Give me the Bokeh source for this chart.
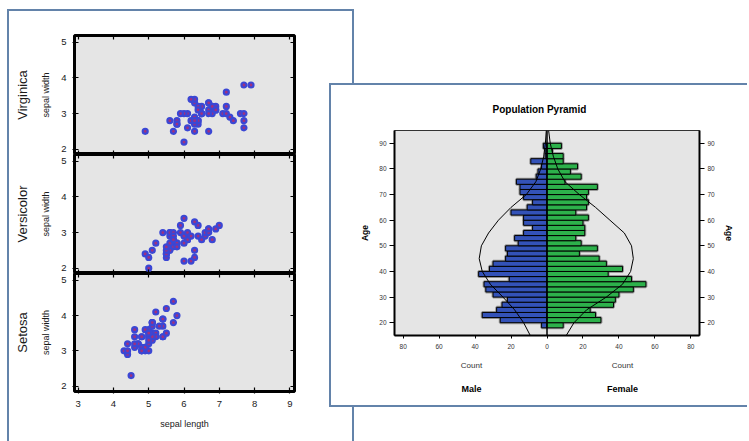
from bokeh.plotting import figure
from bokeh.models import (Range1d, LinearAxis, FixedTicker, GridBox, Column, Title,
                          CustomJSTickFormatter, Span)
from bokeh.embed import file_html
from bokeh.resources import INLINE

FONT = "Liberation Sans"
PANEL_BORDER = "2px solid #6383aa"

# ---------------- Iris data (sepal length, sepal width) ----------------
setosa_len = [5.1, 4.9, 4.7, 4.6, 5.0, 5.4, 4.6, 5.0, 4.4, 4.9, 5.4, 4.8, 4.8, 4.3, 5.8, 5.7, 5.4,
              5.1, 5.7, 5.1, 5.4, 5.1, 4.6, 5.1, 4.8, 5.0, 5.0, 5.2, 5.2, 4.7, 4.8, 5.4, 5.2, 5.5,
              4.9, 5.0, 5.5, 4.9, 4.4, 5.1, 5.0, 4.5, 4.4, 5.0, 5.1, 4.8, 5.1, 4.6, 5.3, 5.0]
setosa_wid = [3.5, 3.0, 3.2, 3.1, 3.6, 3.9, 3.4, 3.4, 2.9, 3.1, 3.7, 3.4, 3.0, 3.0, 4.0, 4.4, 3.9,
              3.5, 3.8, 3.8, 3.4, 3.7, 3.6, 3.3, 3.4, 3.0, 3.4, 3.5, 3.4, 3.2, 3.1, 3.4, 4.1, 4.2,
              3.1, 3.2, 3.5, 3.6, 3.0, 3.4, 3.5, 2.3, 3.2, 3.5, 3.8, 3.0, 3.8, 3.2, 3.7, 3.3]
versicolor_len = [7.0, 6.4, 6.9, 5.5, 6.5, 5.7, 6.3, 4.9, 6.6, 5.2, 5.0, 5.9, 6.0, 6.1, 5.6, 6.7, 5.6,
                  5.8, 6.2, 5.6, 5.9, 6.1, 6.3, 6.1, 6.4, 6.6, 6.8, 6.7, 6.0, 5.7, 5.5, 5.5, 5.8, 6.0,
                  5.4, 6.0, 6.7, 6.3, 5.6, 5.5, 5.5, 6.1, 5.8, 5.0, 5.6, 5.7, 5.7, 6.2, 5.1, 5.7]
versicolor_wid = [3.2, 3.2, 3.1, 2.3, 2.8, 2.8, 3.3, 2.4, 2.9, 2.7, 2.0, 3.0, 2.2, 2.9, 2.9, 3.1, 3.0,
                  2.7, 2.2, 2.5, 3.2, 2.8, 2.5, 2.8, 2.9, 3.0, 2.8, 3.0, 2.9, 2.6, 2.4, 2.4, 2.7, 2.7,
                  3.0, 3.4, 3.1, 2.3, 3.0, 2.5, 2.6, 3.0, 2.6, 2.3, 2.7, 3.0, 2.9, 2.9, 2.5, 2.8]
virginica_len = [6.3, 5.8, 7.1, 6.3, 6.5, 7.6, 4.9, 7.3, 6.7, 7.2, 6.5, 6.4, 6.8, 5.7, 5.8, 6.4, 6.5,
                 7.7, 7.7, 6.0, 6.9, 5.6, 7.7, 6.3, 6.7, 7.2, 6.2, 6.1, 6.4, 7.2, 7.4, 7.9, 6.4, 6.3,
                 6.1, 7.7, 6.3, 6.4, 6.0, 6.9, 6.7, 6.9, 5.8, 6.8, 6.7, 6.7, 6.3, 6.5, 6.2, 5.9]
virginica_wid = [3.3, 2.7, 3.0, 2.9, 3.0, 3.0, 2.5, 2.9, 2.5, 3.6, 3.2, 2.7, 3.0, 2.5, 2.8, 3.2, 3.0,
                 3.8, 2.6, 2.2, 3.2, 2.8, 2.8, 2.7, 3.3, 3.2, 2.8, 3.0, 2.8, 3.0, 2.8, 3.8, 2.8, 2.8,
                 2.6, 3.0, 3.4, 3.1, 3.0, 3.1, 3.1, 3.1, 2.7, 3.2, 3.3, 3.0, 2.5, 3.0, 3.4, 3.0]
iris_x_ticks = [3, 4, 5, 6, 7, 8, 9]
iris_y_ticks = [2, 3, 4, 5]

# ---------------- Population pyramid data ----------------
age_bins = [19, 21, 23, 25, 27, 29, 31, 33, 35, 37, 39, 41, 43, 45, 47, 49, 51, 53,
            55, 57, 59, 61, 63, 65, 67, 69, 71, 73, 75, 77, 79, 81, 83, 85, 87, 89]
male_counts = [3, 26, 36, 28, 25, 22, 30, 34, 35, 21, 38, 32, 30, 23, 22, 23, 16, 18,
               13, 8, 13, 13, 20, 11, 8, 13, 15, 15, 17, 6, 5, 3, 9, 1, 1, 2]
female_counts = [9, 30, 27, 24, 37, 38, 40, 48, 55, 47, 34, 42, 33, 29, 18, 28, 19, 16,
                 21, 21, 20, 23, 16, 22, 23, 22, 23, 28, 10, 19, 13, 17, 9, 9, 3, 8]
curve_ages = [15, 20, 25, 30, 35, 40, 45, 50, 55, 60, 65, 70, 75, 80, 85, 90, 95]
male_curve = [9.3, 13, 18, 24.5, 31.5, 36, 37.7, 36.5, 32.5, 27, 20, 11.5, 6.2, 3.5, 1.8, 0.9, 0.4]
female_curve = [10.7, 15, 22, 33, 42, 46.5, 48, 47, 43, 35, 27, 18, 10, 6, 3.5, 1.8, 0.9]
pyr_x_ticks = [-80, -60, -40, -20, 0, 20, 40, 60, 80]
pyr_y_ticks = [20, 30, 40, 50, 60, 70, 80, 90]
side_labels = {-42: "Male", 42: "Female"}
pyr_title = "Population Pyramid"

BLANK = CustomJSTickFormatter(code="return ''")

IX0, IX1 = 2.895, 9.133
IY0, IY1 = 1.85, 5.19


def iris_fig(name, xs, ys, kind):
    top = 24 if kind == "top" else 0
    bottom = 50 if kind == "bottom" else 0
    fh = 118 if kind == "bottom" else 119
    p = figure(width=343, height=top + fh + bottom,
               x_range=Range1d(IX0, IX1), y_range=Range1d(IY0, IY1),
               x_axis_location=None, y_axis_location=None,
               min_border_left=65, min_border_right=58, min_border_top=top, min_border_bottom=bottom,
               output_backend="svg", toolbar_location=None,
               background_fill_color="#e5e5e5", border_fill_color="white",
               outline_line_color="black", outline_line_width=3)
    p.grid.visible = False

    def common(ax):
        ax.major_tick_in = 4
        ax.major_tick_out = 2
        ax.major_tick_line_width = 1.2
        ax.minor_tick_line_color = None
        ax.axis_line_color = None
        ax.major_label_text_font = FONT
        ax.major_label_text_font_size = "9.5px"
        ax.major_label_text_color = "#1a1a1a"
        ax.axis_label_text_color = "#1a1a1a"
        return ax

    ly = common(LinearAxis(ticker=FixedTicker(ticks=iris_y_ticks), axis_label="sepal width",
                           axis_label_text_font=FONT, axis_label_text_font_size="9px",
                           axis_label_text_font_style="normal", axis_label_standoff=7,
                           major_label_standoff=6))
    p.add_layout(ly, "left")
    # species name as the label of a second, tick-less left axis
    nm = LinearAxis(ticker=FixedTicker(ticks=[]), axis_label=name,
                    major_tick_in=0, major_tick_out=0, minor_tick_in=0, minor_tick_out=0,
                    major_tick_line_color=None, minor_tick_line_color=None, axis_line_color=None,
                    major_label_standoff=0, axis_label_standoff=9,
                    axis_label_text_font=FONT, axis_label_text_font_size="13px",
                    axis_label_text_font_style="normal", axis_label_text_color="#1a1a1a")
    p.add_layout(nm, "left")
    ry = common(LinearAxis(ticker=FixedTicker(ticks=iris_y_ticks), formatter=BLANK,
                           fixed_location=IX1))
    p.add_layout(ry, "right")
    tx = common(LinearAxis(ticker=FixedTicker(ticks=iris_x_ticks), formatter=BLANK,
                           fixed_location=IY1))
    p.add_layout(tx, "above")
    if kind == "bottom":
        bx = common(LinearAxis(ticker=FixedTicker(ticks=iris_x_ticks), axis_label="sepal length",
                               axis_label_text_font=FONT, axis_label_text_font_size="9px",
                               axis_label_text_font_style="normal", axis_label_standoff=9,
                               major_label_standoff=7))
    else:
        bx = common(LinearAxis(ticker=FixedTicker(ticks=iris_x_ticks), formatter=BLANK,
                               fixed_location=IY0))
    p.add_layout(bx, "below")
    p.scatter(xs, ys, marker="circle", size=5, fill_color="#a0307e",
              line_color="#3b47d4", line_width=2.2)
    return p


f1 = iris_fig("Virginica", virginica_len, virginica_wid, "top")
f2 = iris_fig("Versicolor", versicolor_len, versicolor_wid, "mid")
f3 = iris_fig("Setosa", setosa_len, setosa_wid, "bottom")
left_panel = Column(children=[f1, f2, f3], spacing=0,
                    styles={"border-top": PANEL_BORDER, "border-left": PANEL_BORDER,
                            "border-right": PANEL_BORDER, "background-color": "white"})

# ---------------- Pyramid ----------------
PX0, PX1 = -84.8, 84.8
PY0, PY1 = 15, 95
pyr = figure(width=418, height=324, x_range=Range1d(PX0, PX1), y_range=Range1d(PY0, PY1),
             x_axis_location=None, y_axis_location=None,
             min_border_left=63, min_border_right=50, min_border_top=45, min_border_bottom=74,
             output_backend="svg", toolbar_location=None,
             background_fill_color="#e5e5e5", border_fill_color="white",
             outline_line_color="#333333", outline_line_width=1,
             styles={"border-top": PANEL_BORDER, "border-left": PANEL_BORDER,
                     "border-bottom": PANEL_BORDER, "background-color": "white"})
pyr.grid.visible = False
pyr.title = Title(text=pyr_title, text_font=FONT, text_font_size="10px",
                  text_font_style="bold", text_color="black", align="left", offset=98,
                  standoff=31)


def pyr_axis(ax, size="6.5px"):
    ax.minor_tick_line_color = None
    ax.major_label_text_font = FONT
    ax.major_label_text_font_size = size
    ax.major_label_text_color = "#333333"
    ax.axis_label_text_font = FONT
    ax.axis_label_text_font_size = "8.5px"
    ax.axis_label_text_font_style = "bold"
    ax.axis_label_text_color = "black"
    return ax


for side in ("left", "right"):
    ay = pyr_axis(LinearAxis(ticker=FixedTicker(ticks=pyr_y_ticks), axis_label="Age",
                             major_tick_in=0, major_tick_out=5, major_label_standoff=3,
                             axis_label_standoff=6, axis_line_width=2))
    pyr.add_layout(ay, side)

ax1 = pyr_axis(LinearAxis(ticker=FixedTicker(ticks=pyr_x_ticks),
                          major_label_overrides={t: str(abs(t)) for t in pyr_x_ticks},
                          major_tick_in=0, major_tick_out=3, major_label_standoff=5,
                          axis_line_width=2))
pyr.add_layout(ax1, "below")
ax2 = pyr_axis(LinearAxis(ticker=FixedTicker(ticks=list(side_labels)),
                          major_label_overrides={k: "Count" for k in side_labels},
                          major_tick_line_color=None, axis_line_color=None,
                          major_tick_in=0, major_tick_out=0, major_label_standoff=9), "8px")
pyr.add_layout(ax2, "below")
ax3 = pyr_axis(LinearAxis(ticker=FixedTicker(ticks=list(side_labels)),
                          major_label_overrides=side_labels,
                          major_tick_line_color=None, axis_line_color=None,
                          major_tick_in=0, major_tick_out=0, major_label_standoff=11), "9px")
ax3.major_label_text_font_style = "bold"
ax3.major_label_text_color = "black"
pyr.add_layout(ax3, "below")

male_left = [-m for m in male_counts]
# soft grey halo behind the bars (shadow effect)
pyr.hbar(y=age_bins, left=male_left, right=0, height=2, fill_color=None,
         line_color="#7a7a7a", line_width=3, line_alpha=0.7)
pyr.hbar(y=age_bins, left=0, right=female_counts, height=2, fill_color=None,
         line_color="#7a7a7a", line_width=3, line_alpha=0.7)
pyr.hbar(y=age_bins, left=male_left, right=0, height=2,
         fill_color="#3352b8", line_color="black", line_width=1)
pyr.hbar(y=age_bins, left=0, right=female_counts, height=2,
         fill_color="#2db14b", line_color="black", line_width=1)
pyr.add_layout(Span(location=0, dimension="height", line_color="black", line_width=1.5))
pyr.line([-v for v in male_curve], curve_ages, line_color="black", line_width=1)
pyr.line(female_curve, curve_ages, line_color="black", line_width=1)

grid = GridBox(children=[(left_panel, 1, 1, 3, 2), (pyr, 2, 2, 1, 2)],
               rows=["9px", "74px", "328px", "30px"],
               cols=["7px", "322px", "25px", "395px"], spacing=0)

open("out.html", "w").write(file_html(grid, INLINE))
